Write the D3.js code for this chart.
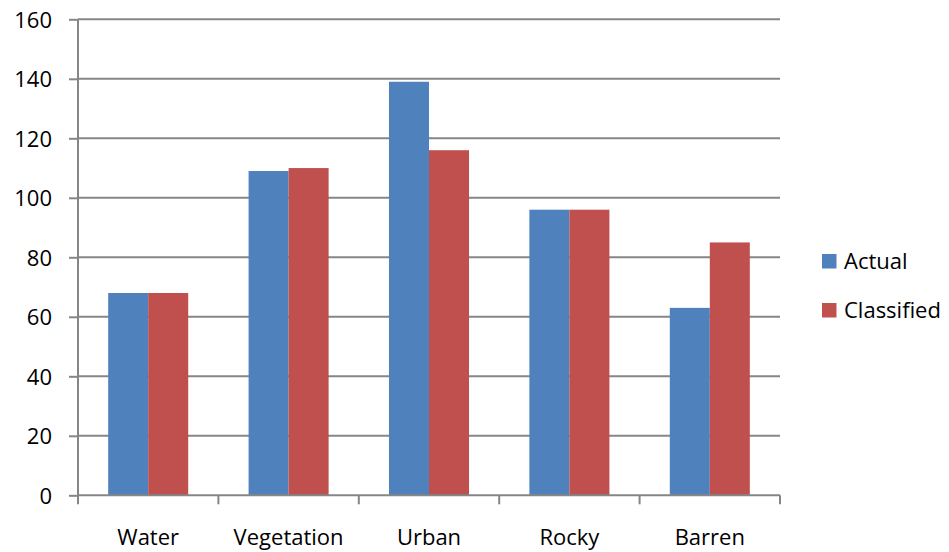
<!DOCTYPE html>
<html>
<head>
<meta charset="utf-8">
<script src="https://cdn.jsdelivr.net/npm/d3@7"></script>
<style>
  html, body { margin: 0; padding: 0; background: #fff; }
  svg { display: block; font-family: "Open Sans", "Noto Sans", sans-serif; }
</style>
</head>
<body>
<svg id="chart" width="949" height="552"></svg>
<script>
// Land-cover classes and pixel counts per class
const categories = ["Water", "Vegetation", "Urban", "Rocky", "Barren"];
const actual = [68, 109, 139, 96, 63];
const classified = [68, 110, 116, 96, 85];
const seriesNames = ["Actual", "Classified"];
const seriesColors = ["#4F81BD", "#C0504D"];
const yTicks = [0, 20, 40, 60, 80, 100, 120, 140, 160];

(function drawChart() {
  const svg = d3.select("#chart");
  const plotLeft = 78, plotRight = 780, plotTop = 19.3, plotBottom = 495.3;
  const gridColor = "#868686";
  const fontSize = 22;

  const x = d3.scaleBand().domain(categories).range([plotLeft, plotRight]).paddingInner(0).paddingOuter(0);
  const y = d3.scaleLinear().domain([0, 160]).range([plotBottom, plotTop]);

  // horizontal gridlines
  svg.append("g").selectAll("line").data(yTicks.filter(d => d > 0)).join("line")
    .attr("x1", plotLeft).attr("x2", plotRight)
    .attr("y1", d => y(d)).attr("y2", d => y(d))
    .attr("stroke", gridColor).attr("stroke-width", 2);

  // bars
  const bw = x.bandwidth() * 0.285;
  const rows = categories.map((c, i) => ({ c, vals: [actual[i], classified[i]] }));
  const groups = svg.append("g").selectAll("g").data(rows).join("g")
    .attr("transform", d => `translate(${x(d.c) + x.bandwidth() / 2 - bw},0)`);
  groups.selectAll("rect").data(d => d.vals.map((v, k) => ({ v, k }))).join("rect")
    .attr("x", d => d.k * bw)
    .attr("y", d => y(d.v))
    .attr("width", bw)
    .attr("height", d => y(0) - y(d.v))
    .attr("fill", d => seriesColors[d.k]);

  // y axis
  const yAxis = svg.append("g").attr("transform", `translate(${plotLeft},0)`)
    .call(d3.axisLeft(y).tickValues(yTicks).tickSize(9).tickPadding(17));
  yAxis.select(".domain").attr("stroke", gridColor).attr("stroke-width", 2).attr("d", `M0,${plotBottom}V${plotTop}`);
  yAxis.selectAll(".tick line").attr("stroke", gridColor).attr("stroke-width", 2);
  yAxis.selectAll(".tick text").attr("fill", "#000").attr("font-size", fontSize)
    .attr("font-family", "'Open Sans', 'Noto Sans', sans-serif").attr("dy", "0.35em");

  // x axis with ticks at category boundaries
  const xAxis = svg.append("g").attr("transform", `translate(0,${plotBottom})`);
  xAxis.append("line").attr("x1", plotLeft).attr("x2", plotRight).attr("y1", 0).attr("y2", 0)
    .attr("stroke", gridColor).attr("stroke-width", 2);
  const bounds = categories.map(c => x(c)).concat([plotRight]);
  xAxis.selectAll("line.tk").data(bounds).join("line").attr("class", "tk")
    .attr("x1", d => d).attr("x2", d => d).attr("y1", 0).attr("y2", 9)
    .attr("stroke", gridColor).attr("stroke-width", 2);
  xAxis.selectAll("text").data(categories).join("text")
    .attr("x", d => x(d) + x.bandwidth() / 2).attr("y", 50)
    .attr("text-anchor", "middle").attr("font-size", fontSize).attr("fill", "#000")
    .text(d => d);

  // legend
  const legend = svg.append("g").attr("transform", "translate(822,254)");
  seriesNames.forEach((name, i) => {
    const g = legend.append("g").attr("transform", `translate(0,${i * 49})`);
    g.append("rect").attr("width", 14.5).attr("height", 14.5).attr("fill", seriesColors[i]);
    g.append("text").attr("x", 22).attr("y", 15).attr("font-size", fontSize).attr("fill", "#000").text(name);
  });
})();
</script>
</body>
</html>
